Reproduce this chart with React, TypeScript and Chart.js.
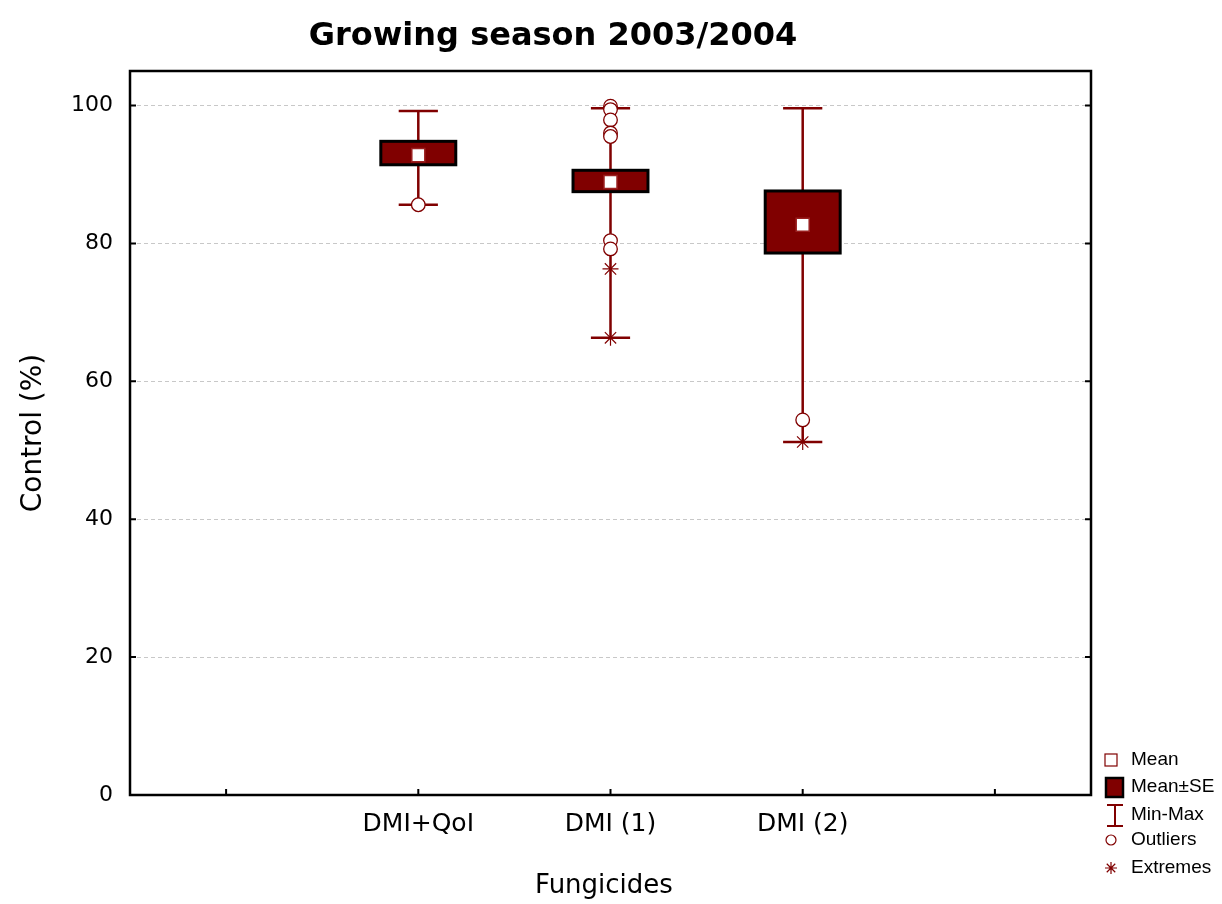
import React, { useEffect, useRef } from 'react';
import { Chart, registerables } from 'chart.js';

Chart.register(...registerables);

const categories = ['DMI+QoI', 'DMI (1)', 'DMI (2)'];
const categoryPositions = [1, 2, 3];
const means = [92.8, 88.9, 82.7];
const seLower = [91.4, 87.5, 78.6];
const seUpper = [94.8, 90.6, 87.6];
const minValues = [85.6, 66.3, 51.2];
const maxValues = [99.2, 99.6, 99.6];
const outliers1 = [85.6];
const outliers2 = [99.9, 99.4, 97.9, 96.0, 95.5, 80.4, 79.2];
const outliers3 = [54.4];
const extremes1: number[] = [];
const extremes2 = [76.3, 66.3];
const extremes3 = [51.2];
const yTicks = [0, 20, 40, 60, 80, 100];
const xTickPositions = [0, 1, 2, 3, 4];
const legendLabels = ['Mean', 'Mean±SE', 'Min-Max', 'Outliers', 'Extremes'];

const DARK_RED = '#800000';
const BOX_HALF = 0.195;
const CAP_HALF = 0.102;

const outlierGroups = [outliers1, outliers2, outliers3];
const extremeGroups = [extremes1, extremes2, extremes3];

const boxPlugin = {
  id: 'boxPlugin',
  beforeDatasetsDraw(chart: any) {
    const { ctx, scales } = chart;
    const xs = scales.x;
    const ys = scales.y;
    ctx.save();
    categoryPositions.forEach((pos, i) => {
      const cx = xs.getPixelForValue(pos);
      const yMin = ys.getPixelForValue(minValues[i]);
      const yMax = ys.getPixelForValue(maxValues[i]);
      const capL = xs.getPixelForValue(pos - CAP_HALF);
      const capR = xs.getPixelForValue(pos + CAP_HALF);
      ctx.strokeStyle = DARK_RED;
      ctx.lineWidth = 2.5;
      ctx.beginPath();
      ctx.moveTo(cx, yMin);
      ctx.lineTo(cx, yMax);
      ctx.moveTo(capL, yMin);
      ctx.lineTo(capR, yMin);
      ctx.moveTo(capL, yMax);
      ctx.lineTo(capR, yMax);
      ctx.stroke();
      const bl = xs.getPixelForValue(pos - BOX_HALF);
      const br = xs.getPixelForValue(pos + BOX_HALF);
      const bt = ys.getPixelForValue(seUpper[i]);
      const bb = ys.getPixelForValue(seLower[i]);
      ctx.fillStyle = DARK_RED;
      ctx.fillRect(bl, bt, br - bl, bb - bt);
      ctx.strokeStyle = '#000';
      ctx.lineWidth = 3;
      ctx.strokeRect(bl, bt, br - bl, bb - bt);
    });
    ctx.restore();
  },
};

const decorPlugin = {
  id: 'decorPlugin',
  afterDraw(chart: any) {
    const { ctx, chartArea, scales } = chart;
    const { left, right, top, bottom } = chartArea;
    const xs = scales.x;
    const ys = scales.y;
    ctx.save();
    // frame
    ctx.strokeStyle = '#000';
    ctx.lineWidth = 2.5;
    ctx.strokeRect(left, top, right - left, bottom - top);
    // inward ticks
    ctx.lineWidth = 2;
    ctx.beginPath();
    yTicks.forEach((v) => {
      const y = ys.getPixelForValue(v);
      ctx.moveTo(left, y);
      ctx.lineTo(left + 6, y);
      ctx.moveTo(right, y);
      ctx.lineTo(right - 6, y);
    });
    xTickPositions.forEach((v) => {
      const x = xs.getPixelForValue(v);
      ctx.moveTo(x, bottom);
      ctx.lineTo(x, bottom - 6);
    });
    ctx.stroke();

    // title
    ctx.fillStyle = '#000';
    ctx.textAlign = 'center';
    ctx.textBaseline = 'alphabetic';
    ctx.font = 'bold 32px "DejaVu Sans"';
    ctx.fillText('Growing season 2003/2004', 553, 45);

    // x axis title
    ctx.font = '26px "DejaVu Sans"';
    ctx.fillText('Fungicides', 604, 893);

    // y axis title
    ctx.save();
    ctx.translate(41, 433);
    ctx.rotate(-Math.PI / 2);
    ctx.font = '28px "DejaVu Sans"';
    ctx.textBaseline = 'alphabetic';
    ctx.fillText('Control (%)', 0, 0);
    ctx.restore();

    // legend
    const lx = 1111;
    const rows = [760, 787, 815, 840, 868];
    // Mean
    ctx.fillStyle = '#fff';
    ctx.strokeStyle = DARK_RED;
    ctx.lineWidth = 1.2;
    ctx.fillRect(lx - 6, rows[0] - 6, 12, 12);
    ctx.strokeRect(lx - 6, rows[0] - 6, 12, 12);
    // Mean±SE
    ctx.fillStyle = DARK_RED;
    ctx.fillRect(lx - 5, rows[1] - 9, 17, 19);
    ctx.strokeStyle = '#000';
    ctx.lineWidth = 2.5;
    ctx.strokeRect(lx - 5, rows[1] - 9, 17, 19);
    // Min-Max
    ctx.strokeStyle = DARK_RED;
    ctx.lineWidth = 2;
    ctx.beginPath();
    ctx.moveTo(lx - 4, rows[2] - 10);
    ctx.lineTo(lx + 12, rows[2] - 10);
    ctx.moveTo(lx - 4, rows[2] + 11);
    ctx.lineTo(lx + 12, rows[2] + 11);
    ctx.moveTo(lx + 4, rows[2] - 10);
    ctx.lineTo(lx + 4, rows[2] + 11);
    ctx.stroke();
    // Outliers
    ctx.lineWidth = 1.2;
    ctx.beginPath();
    ctx.arc(lx, rows[3], 5, 0, Math.PI * 2);
    ctx.fillStyle = '#fff';
    ctx.fill();
    ctx.stroke();
    // Extremes
    ctx.beginPath();
    for (let k = 0; k < 4; k++) {
      const a = (k * Math.PI) / 4;
      ctx.moveTo(lx - 6 * Math.cos(a), rows[4] - 6 * Math.sin(a));
      ctx.lineTo(lx + 6 * Math.cos(a), rows[4] + 6 * Math.sin(a));
    }
    ctx.stroke();
    // labels
    ctx.fillStyle = '#000';
    ctx.textAlign = 'left';
    ctx.textBaseline = 'middle';
    ctx.font = '19px "Liberation Sans"';
    legendLabels.forEach((t, i) => {
      ctx.fillText(t, 1131, rows[i]);
    });
    ctx.restore();
  },
};

export default function App() {
  const canvasRef = useRef<HTMLCanvasElement | null>(null);

  useEffect(() => {
    document.body.style.margin = '0';
    const canvas = canvasRef.current;
    if (!canvas) return;

    const meanData = categoryPositions.map((x, i) => ({ x, y: means[i] }));
    const outlierData: { x: number; y: number }[] = [];
    outlierGroups.forEach((g, i) => g.forEach((y) => outlierData.push({ x: categoryPositions[i], y })));
    const extremeData: { x: number; y: number }[] = [];
    extremeGroups.forEach((g, i) => g.forEach((y) => extremeData.push({ x: categoryPositions[i], y })));

    const chart = new Chart(canvas, {
      type: 'scatter',
      data: {
        datasets: [
          {
            label: 'Mean',
            data: meanData,
            pointStyle: 'rect',
            pointRadius: 9.2,
            backgroundColor: '#fff',
            borderColor: '#9a2020',
            borderWidth: 1.5,
          },
          {
            label: 'Extremes',
            data: extremeData,
            pointStyle: 'star',
            pointRadius: 8,
            borderColor: DARK_RED,
            backgroundColor: DARK_RED,
            borderWidth: 1.2,
          },
          {
            label: 'Outliers',
            data: outlierData,
            pointStyle: 'circle',
            pointRadius: 6.8,
            backgroundColor: '#fff',
            borderColor: DARK_RED,
            borderWidth: 1.3,
          },
        ],
      },
      options: {
        responsive: false,
        animation: false,
        events: [],
        layout: { padding: { top: 71, right: 131, left: 0, bottom: 0 } },
        plugins: {
          legend: { display: false },
          tooltip: { enabled: false },
          title: { display: false },
        },
        scales: {
          x: {
            type: 'linear',
            min: -0.5,
            max: 4.5,
            afterBuildTicks: (s: any) => {
              s.ticks = xTickPositions.map((v) => ({ value: v }));
            },
            afterFit: (s: any) => {
              s.height = 109;
            },
            ticks: {
              autoSkip: false,
              maxRotation: 0,
              padding: 14,
              color: '#000',
              font: { family: 'DejaVu Sans', size: 25 },
              callback: (v: any) => {
                const i = categoryPositions.indexOf(Number(v));
                return i >= 0 ? categories[i] : '';
              },
            },
            grid: { display: false, drawTicks: false },
            border: { display: false },
          },
          y: {
            type: 'linear',
            min: 0,
            max: 105,
            afterBuildTicks: (s: any) => {
              s.ticks = yTicks.map((v) => ({ value: v }));
            },
            afterFit: (s: any) => {
              s.width = 130;
            },
            ticks: {
              padding: 17,
              color: '#000',
              font: { family: 'DejaVu Sans', size: 22 },
            },
            grid: { color: '#c8c8c8', lineWidth: 1, drawTicks: false },
            border: { display: false, dash: [4, 3] },
          },
        },
      },
      plugins: [boxPlugin, decorPlugin],
    });

    return () => chart.destroy();
  }, []);

  return (
    <div style={{ width: 1222, height: 904 }}>
      <canvas ref={canvasRef} width={1222} height={904} style={{ display: 'block' }} />
    </div>
  );
}
